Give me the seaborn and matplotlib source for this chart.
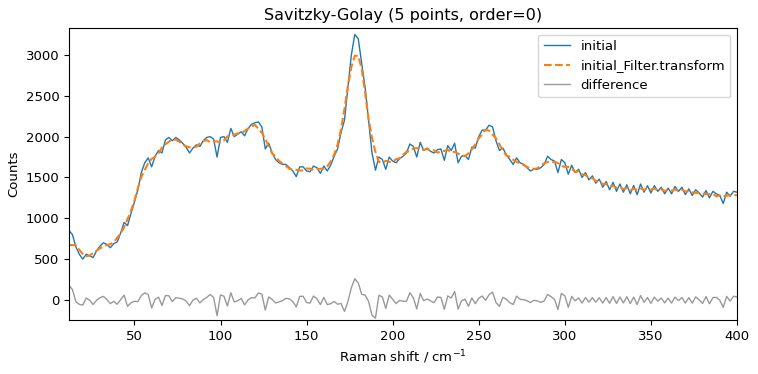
import numpy as np
import pandas as pd
import matplotlib
matplotlib.use("Agg")
import matplotlib.pyplot as plt
import seaborn as sns

raman_shift = np.arange(12, 401, 2)

initial = [
    850, 800, 650, 560, 500, 560, 540, 520, 600, 660,
    700, 680, 640, 690, 710, 820, 950, 910, 1060, 1200,
    1350, 1560, 1680, 1740, 1630, 1760, 1830, 1800, 1960, 1990,
    1950, 1990, 1960, 1920, 1870, 1800, 1860, 1900, 1880, 1950,
    1990, 2000, 1970, 1750, 1990, 2000, 1930, 2100, 2000, 2030,
    2060, 2010, 2100, 2150, 2170, 2180, 2120, 1850, 1920, 1800,
    1720, 1680, 1660, 1660, 1620, 1580, 1510, 1630, 1630, 1580,
    1570, 1640, 1620, 1550, 1640, 1580, 1650, 1760, 1850, 2050,
    2200, 2600, 3000, 3250, 3200, 2900, 2600, 2200, 1800, 1590,
    1750, 1720, 1600, 1750, 1700, 1680, 1730, 1760, 1800, 1910,
    1880, 1750, 1930, 1830, 1860, 1820, 1800, 1840, 1850, 1710,
    1890, 1830, 1920, 1680, 1760, 1770, 1720, 1870, 1860, 2000,
    2080, 2080, 2140, 2120, 1950, 1830, 1860, 1780, 1720, 1660,
    1740, 1680, 1660, 1620, 1580, 1600, 1600, 1620, 1660, 1760,
    1720, 1700, 1560, 1720, 1680, 1540, 1650, 1560, 1600, 1500,
    1560, 1470, 1520, 1430, 1480, 1380, 1450, 1350, 1440, 1330,
    1420, 1320, 1410, 1300, 1400, 1290, 1420, 1320, 1400, 1310,
    1400, 1330, 1380, 1300, 1370, 1300, 1390, 1330, 1380, 1290,
    1360, 1280, 1350, 1310, 1260, 1340, 1250, 1330, 1300, 1280,
    1180, 1320, 1270, 1330, 1320,
]

series_labels = ["initial", "initial_Filter.transform", "difference"]

# Savitzky-Golay filter, 5 points, order 0 (interp edges)
y = np.asarray(initial, dtype=float)
win = 5
half = win // 2
valid = np.convolve(y, np.ones(win) / win, mode="valid")
filtered = np.concatenate([np.full(half, valid[0]), valid, np.full(half, valid[-1])])
difference = y - filtered

df = pd.DataFrame({"x": raman_shift, "initial": y, "filtered": filtered, "difference": difference})

fig = plt.figure(figsize=(7.58, 3.74), dpi=100)
ax = fig.add_axes([69 / 758, 1 - 320 / 374, (737 - 69) / 758, (320 - 28) / 374])

sns.lineplot(data=df, x="x", y="initial", ax=ax, color="#1f77b4", lw=1.0, label=series_labels[0])
sns.lineplot(data=df, x="x", y="filtered", ax=ax, color="#ff7f0e", lw=1.5, linestyle="--", label=series_labels[1])
sns.lineplot(data=df, x="x", y="difference", ax=ax, color="#999999", lw=1.0, label=series_labels[2])

ax.set_xlim(raman_shift.min(), raman_shift.max())
ax.set_ylim(-245, 3330)
ax.set_yticks([0, 500, 1000, 1500, 2000, 2500, 3000])
ax.set_xticks([50, 100, 150, 200, 250, 300, 350, 400])
ax.tick_params(labelsize=9.5)
ax.set_xlabel("Raman shift / cm$^{-1}$", fontsize=9.5)
ax.set_ylabel("Counts", fontsize=9.5)
ax.set_title("Savitzky-Golay (5 points, order=0)", fontsize=11.5)
ax.legend(loc="upper right", fontsize=9.5)

fig.savefig("out.png", dpi=100)
